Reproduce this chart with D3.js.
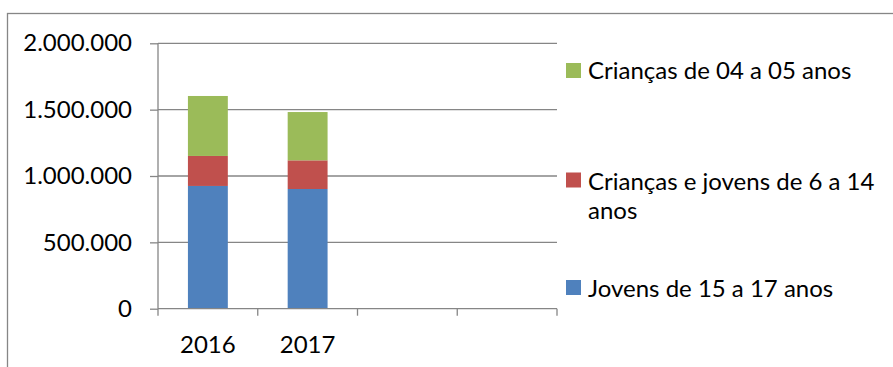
<!DOCTYPE html>
<html><head><meta charset="utf-8">
<script src="https://cdn.jsdelivr.net/npm/d3@7"></script>
<style>body{margin:0;background:#fff}svg{display:block}text{font-family:Lato,"Open Sans",sans-serif;fill:#000}</style>
</head><body><svg id="c" width="893" height="367"></svg>
<script>
const categories = ["2016", "2017", "c3", "c4"];
const categoryLabels = ["2016", "2017", "", ""];
const seriesNames = ["Jovens de 15 a 17 anos", "Crianças e jovens de 6 a 14 anos", "Crianças de 04 a 05 anos"];
const jovens15a17 = [925000, 902000, null, null];
const criancas6a14 = [226000, 216000, null, null];
const criancas4a5 = [452000, 364000, null, null];
const seriesColors = ["#4F81BD", "#C0504D", "#9BBB59"];
const yTicks = [0, 500000, 1000000, 1500000, 2000000];

const svg = d3.select("#c");
const fmt = d3.formatLocale({decimal: ",", thousands: ".", grouping: [3], currency: ["R$", ""]}).format(",.0f");

const x = d3.scaleBand().domain(categories).range([158, 557]).paddingInner(0.6).paddingOuter(0.3);
const y = d3.scaleLinear().domain([0, 2000000]).range([308.7, 43.3]);
const gridColor = "#868686";
const fs = 24;

// outer border
svg.append("rect").attr("x", 7.5).attr("y", 13.5).attr("width", 1000).attr("height", 1000)
  .attr("fill", "none").attr("stroke", gridColor).attr("stroke-width", 1.3);

// gridlines
svg.append("g").selectAll("line").data(yTicks.filter(d => d > 0)).join("line")
  .attr("x1", 158).attr("x2", 557).attr("y1", d => y(d)).attr("y2", d => y(d))
  .attr("stroke", gridColor).attr("stroke-width", 1.3);

// y axis
const ya = svg.append("g").attr("transform", "translate(158,0)")
  .call(d3.axisLeft(y).tickValues(yTicks).tickSize(8).tickPadding(18).tickFormat(fmt));
ya.select(".domain").attr("stroke", gridColor).attr("stroke-width", 1.3).attr("d", `M0,${y(0)}V${y(2000000)}`);
ya.selectAll(".tick line").attr("stroke", gridColor).attr("stroke-width", 1.3);
ya.selectAll(".tick text").attr("font-size", fs).attr("font-family", "Lato").attr("fill", "#000");

// stacked bars
const rows = categories.map((c, i) => ({cat: c, a: jovens15a17[i] || 0, b: criancas6a14[i] || 0, c: criancas4a5[i] || 0}));
const stack = d3.stack().keys(["a", "b", "c"])(rows);
svg.append("g").selectAll("g").data(stack).join("g")
  .attr("fill", (d, i) => seriesColors[i])
  .selectAll("rect").data(d => d.filter(p => p[1] > p[0])).join("rect")
  .attr("x", d => x(d.data.cat)).attr("width", x.bandwidth())
  .attr("y", d => y(d[1])).attr("height", d => y(d[0]) - y(d[1]));

// x axis
const step = x.step();
const x0 = x.range()[0];
const xa = svg.append("g");
xa.append("line").attr("x1", x0).attr("x2", x.range()[1]).attr("y1", y(0)).attr("y2", y(0))
  .attr("stroke", gridColor).attr("stroke-width", 1.3);
xa.selectAll("line.t").data(d3.range(categories.length + 1)).join("line").attr("class", "t")
  .attr("x1", i => x0 + i * step).attr("x2", i => x0 + i * step)
  .attr("y1", y(0)).attr("y2", y(0) + 7).attr("stroke", gridColor).attr("stroke-width", 1.3);
xa.selectAll("text").data(categories).join("text")
  .attr("x", d => x(d) + x.bandwidth() / 2).attr("y", 353).attr("text-anchor", "middle")
  .attr("font-size", fs).text((d, i) => categoryLabels[i]);

// legend
const legend = [
  {i: 2, sy: 63, lines: ["Crianças de 04 a 05 anos"], by: 79},
  {i: 1, sy: 172.5, lines: ["Crianças e jovens de 6 a 14", "anos"], by: 190},
  {i: 0, sy: 280, lines: ["Jovens de 15 a 17 anos"], by: 297}
];
const lg = svg.append("g").selectAll("g").data(legend).join("g");
lg.append("rect").attr("x", 566).attr("y", d => d.sy).attr("width", 15).attr("height", 15)
  .attr("fill", d => seriesColors[d.i]);
lg.each(function(d) {
  const t = d3.select(this).append("text").attr("x", 588).attr("y", d.by).attr("font-size", fs);
  d.lines.forEach((l, k) => t.append("tspan").attr("x", 588).attr("dy", k ? 28.5 : 0).text(l));
});
</script></body></html>
